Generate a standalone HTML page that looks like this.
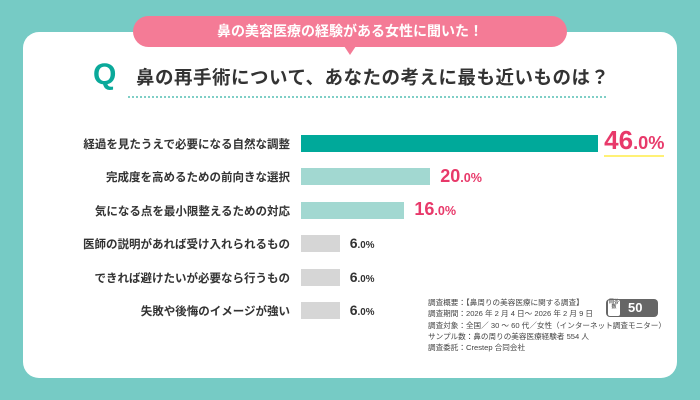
<!DOCTYPE html>
<html><head><meta charset="utf-8"><style>
body{margin:0;width:700px;height:400px;background:#76cbc5;position:relative;overflow:hidden;font-family:"Liberation Sans","Noto Sans CJK JP",sans-serif;}
.card{position:absolute;left:23px;top:32px;width:654px;height:346px;background:#fff;border-radius:16px;}
.pill{position:absolute;left:133px;top:16px;width:434px;height:31px;background:#f47b96;border-radius:16px;color:#fff;font-weight:bold;font-size:14px;text-align:center;line-height:31px;}
.tri{position:absolute;left:344px;top:46px;width:0;height:0;border-left:6px solid transparent;border-right:6px solid transparent;border-top:9px solid #f47b96;}
.q{position:absolute;left:93px;top:58px;font-size:30px;font-weight:bold;color:#0aa99a;line-height:34px;}
.title{position:absolute;left:136px;top:64px;font-size:18.5px;font-weight:bold;color:#333;white-space:nowrap;letter-spacing:0.5px;}
.dots{position:absolute;left:128px;top:96px;width:478px;border-top:2px dotted #7fcfc6;}
.lbl{position:absolute;right:410px;font-size:11.5px;font-weight:bold;color:#333;white-space:nowrap;}
.bar{position:absolute;left:301px;height:17px;}
.val{position:absolute;font-weight:bold;color:#333;white-space:nowrap;}
.val small{font-size:0.7em;}
.note{position:absolute;left:428px;top:297px;font-size:7.6px;color:#444;line-height:11.3px;white-space:nowrap;}
.badge{position:absolute;left:606px;top:299px;width:52px;height:18px;background:#666;border-radius:4px;color:#fff;font-weight:bold;font-size:13px;line-height:18px;}
</style></head><body>
<div class="card"></div>
<div class="pill">鼻の美容医療の経験がある女性に聞いた！</div>
<div class="tri"></div>
<div class="q">Q</div>
<div class="title">鼻の再手術について、あなたの考えに最も近いものは？</div>
<div class="dots"></div>
<div id="chart"></div>
<div class="note">調査概要：【鼻周りの美容医療に関する調査】<br>調査期間：2026 年 2 月 4 日～ 2026 年 2 月 9 日<br>調査対象：全国／ 30 ～ 60 代／女性（インターネット調査モニター）<br>サンプル数：鼻の周りの美容医療経験者 554 人<br>調査委託：Crestep 合同会社</div>
<div class="badge"><span style="display:inline-block;width:12px;height:16px;margin:1px 2px;background:#fff;color:#666;font-size:5px;line-height:5px;vertical-align:top;border-radius:2px;text-align:center">回答数</span><span style="margin-left:6px">50</span></div>
<script>
const categories=["経過を見たうえで必要になる自然な調整","完成度を高めるための前向きな選択","気になる点を最小限整えるための対応","医師の説明があれば受け入れられるもの","できれば避けたいが必要なら行うもの","失敗や後悔のイメージが強い"];
const values=[46.0,20.0,16.0,6.0,6.0,6.0];
const chart=document.getElementById('chart');
const x=v=>v*6.46;
const y=i=>134.5+i*33.5;
categories.forEach((c,i)=>{
 const l=document.createElement('div');l.className='lbl';l.textContent=c;l.style.top=(y(i)+1)+'px';
 
 
 chart.appendChild(l);
 const b=document.createElement('div');b.className='bar';
 b.style.top=y(i)+'px';b.style.width=x(values[i])+'px';
 b.style.background=i===0?'#00a99a':(values[i]>=10?'#a2d8d1':'#d6d6d6');
 
 
 chart.appendChild(b);
 const v=document.createElement('div');v.className='val';
 const big=i===0?26:(values[i]>=10?18:14);
 v.style.fontSize=big+'px';
 v.style.color=values[i]>=10?'#e8396a':'#333';
 v.style.left=(301+x(values[i])+(i===0?6:10))+'px';
 v.style.top=(y(i)+8.5-big*0.6)+'px';
 const s=values[i].toFixed(1).split('.');
 v.innerHTML=s[0]+'<small>.'+s[1]+'%</small>';
 if(i===0){v.style.borderBottom='2px solid #fff176';v.style.lineHeight='1.05';}
 
 
 chart.appendChild(v);
});
</script>
</body></html>
